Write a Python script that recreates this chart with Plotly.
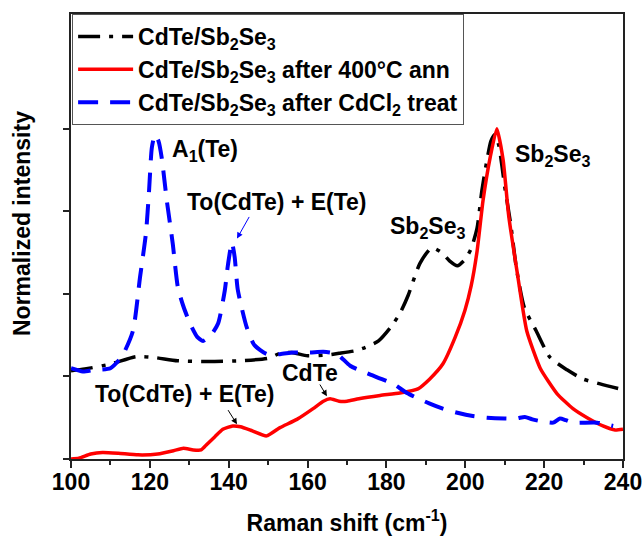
import plotly.graph_objects as go

# ---- data ----
x_black = [100, 103.5, 110, 116.5, 121, 127, 135, 143, 150, 153, 156, 160, 165, 168, 172, 174, 176, 178, 181, 183.5, 185.5, 188.5, 191.5, 194, 196, 198, 200, 201.5, 203, 204.2, 205.5, 206.5, 207.5, 208.5, 210, 211.5, 213, 215, 218, 221.5, 225.8, 229.8, 234.2, 240]
y_black = [1.07, 1.09, 1.15, 1.24, 1.23, 1.19, 1.18, 1.19, 1.22, 1.28, 1.29, 1.25, 1.26, 1.28, 1.31, 1.34, 1.38, 1.43, 1.59, 1.77, 1.98, 2.37, 2.56, 2.50, 2.40, 2.34, 2.42, 2.55, 2.80, 3.25, 3.62, 3.85, 3.93, 3.80, 3.30, 2.85, 2.30, 1.83, 1.55, 1.23, 1.08, 0.97, 0.91, 0.84]

x_red = [100, 102, 105, 108, 112, 117, 122, 126, 128.5, 131, 133, 134.5, 136.5, 138.5, 141, 143, 146, 149.6, 153, 157.3, 161.4, 164, 165.7, 168, 170, 173, 178.4, 183.4, 188, 191, 194.3, 197.4, 199.9, 201.5, 203, 204.5, 206.3, 208, 209.6, 211, 213.1, 215.6, 219, 223.3, 227.3, 230.9, 234.9, 238, 240]
y_red = [0.00, 0.01, 0.06, 0.08, 0.07, 0.05, 0.06, 0.10, 0.13, 0.11, 0.11, 0.18, 0.27, 0.36, 0.40, 0.39, 0.34, 0.28, 0.38, 0.48, 0.61, 0.70, 0.73, 0.70, 0.70, 0.73, 0.77, 0.80, 0.85, 0.97, 1.15, 1.47, 1.80, 2.10, 2.52, 3.13, 3.65, 4.00, 3.62, 2.95, 2.28, 1.55, 1.10, 0.79, 0.61, 0.50, 0.40, 0.35, 0.36]

x_blue = [100, 103, 106, 110, 113, 115.7, 117.5, 119, 119.8, 120.5, 121.3, 122.2, 123, 124.3, 125.8, 127.1, 128.5, 130.2, 132, 133.5, 135.5, 137.3, 139, 139.8, 140.8, 141.5, 142.3, 144.6, 146.5, 149.7, 153, 156.3, 160.6, 164, 167.5, 170.8, 175, 181.7, 185.2, 191, 194.3, 198, 201.9, 205.5, 210, 213, 215.1, 217, 220, 222.3, 224, 225.5, 227.3, 233.4, 237.5]
y_blue = [1.10, 1.06, 1.08, 1.10, 1.25, 1.55, 2.20, 2.73, 3.25, 3.77, 3.93, 3.85, 3.65, 3.13, 2.61, 2.08, 1.85, 1.64, 1.48, 1.43, 1.50, 1.64, 2.04, 2.35, 2.62, 2.45, 2.05, 1.59, 1.38, 1.27, 1.27, 1.29, 1.29, 1.30, 1.27, 1.13, 1.04, 0.91, 0.80, 0.67, 0.61, 0.56, 0.52, 0.50, 0.49, 0.49, 0.51, 0.48, 0.45, 0.44, 0.49, 0.47, 0.44, 0.44, 0.40]

names = ["CdTe/Sb<sub>2</sub>Se<sub>3</sub>",
         "CdTe/Sb<sub>2</sub>Se<sub>3</sub> after 400°C ann",
         "CdTe/Sb<sub>2</sub>Se<sub>3</sub> after CdCl<sub>2</sub> treat"]

x_ticks = [100, 120, 140, 160, 180, 200, 220, 240]
y_ticks = [0, 1, 2, 3, 4]

FONT = "Liberation Sans, Arial, sans-serif"
FS = 23

fig = go.Figure()
fig.add_trace(go.Scatter(x=x_black, y=y_black, mode="lines", name=names[0],
                         line=dict(color="black", width=3.5, dash="22px,9px,4px,9px", shape="spline", smoothing=0.6)))
fig.add_trace(go.Scatter(x=x_red, y=y_red, mode="lines", name=names[1],
                         line=dict(color="#ff0000", width=3.5, shape="spline", smoothing=0.5)))
fig.add_trace(go.Scatter(x=x_blue, y=y_blue, mode="lines", name=names[2],
                         line=dict(color="#0000ff", width=4, dash="20px,12px", shape="spline", smoothing=0.6)))

ann_font = dict(family=FONT, size=FS, color="black", weight="bold")
annotations = [
    dict(x=125.1, y=3.74, text="A<sub>1</sub>(Te)", xanchor="left", yanchor="middle", showarrow=False, font=ann_font),
    dict(x=128.9, y=3.11, text="To(CdTe) + E(Te)", xanchor="left", yanchor="middle", showarrow=False, font=ann_font),
    dict(x=212.1, y=3.68, text="Sb<sub>2</sub>Se<sub>3</sub>", xanchor="left", yanchor="middle", showarrow=False, font=ann_font),
    dict(x=180.4, y=2.80, text="Sb<sub>2</sub>Se<sub>3</sub>", xanchor="left", yanchor="middle", showarrow=False, font=ann_font),
    dict(x=105.6, y=0.79, text="To(CdTe) + E(Te)", xanchor="left", yanchor="middle", showarrow=False, font=ann_font),
    dict(x=153.0, y=1.04, text="CdTe", xanchor="left", yanchor="middle", showarrow=False, font=ann_font),
    # arrows
    dict(x=142.1, y=2.67, ax=145.4, ay=2.95, axref="x", ayref="y", xref="x", yref="y", text="",
         showarrow=True, arrowhead=2, arrowsize=1.2, arrowwidth=1, arrowcolor="#0000ff"),
    dict(x=142.1, y=0.42, ax=139.6, ay=0.61, axref="x", ayref="y", xref="x", yref="y", text="",
         showarrow=True, arrowhead=2, arrowsize=1.2, arrowwidth=1, arrowcolor="black"),
    dict(x=164.9, y=0.76, ax=162.9, ay=0.92, axref="x", ayref="y", xref="x", yref="y", text="",
         showarrow=True, arrowhead=2, arrowsize=1.2, arrowwidth=1, arrowcolor="black"),
    # y-axis title
    dict(x=-49/552, y=(459-224)/445, xref="paper", yref="paper", text="Normalized intensity",
         textangle=-90, showarrow=False, xanchor="center", yanchor="middle", font=ann_font),
]

fig.update_layout(
    width=642, height=536,
    margin=dict(l=71, r=19, t=14, b=77, autoexpand=False),
    plot_bgcolor="white", paper_bgcolor="white",
    font=dict(family=FONT, size=FS, color="black"),
    annotations=annotations,
    legend=dict(x=0.002, y=1, xanchor="left", yanchor="top",
                bordercolor="#555", borderwidth=1, bgcolor="white",
                font=dict(family=FONT, size=FS, color="black", weight="bold"),
                itemwidth=55, tracegroupgap=0),
    xaxis=dict(range=[100, 240], tickvals=x_ticks, ticks="outside", ticklen=7, tickwidth=1.5,
               tickcolor="#222", showline=True, linecolor="#222", linewidth=1.5, mirror=True,
               showgrid=False, zeroline=False, ticklabelstandoff=-5, ticklabeloverflow="allow",
               automargin=False,
               tickfont=dict(family=FONT, size=FS, color="black", weight="bold"),
               minor=dict(dtick=10, tick0=100, ticks="outside", ticklen=4, tickcolor="#222", tickwidth=1.5, showgrid=False),
               title=dict(text="Raman shift (cm<sup>-1</sup>)", standoff=21,
                          font=dict(family=FONT, size=FS, color="black", weight="bold"))),
    yaxis=dict(range=[0, 5.39], tickvals=y_ticks, showticklabels=False, ticks="outside", ticklen=6,
               tickwidth=1.5, tickcolor="#222", showline=True, linecolor="#222", linewidth=1.5,
               mirror=True, showgrid=False, zeroline=False, automargin=False),
)

fig.write_html("out.html")
